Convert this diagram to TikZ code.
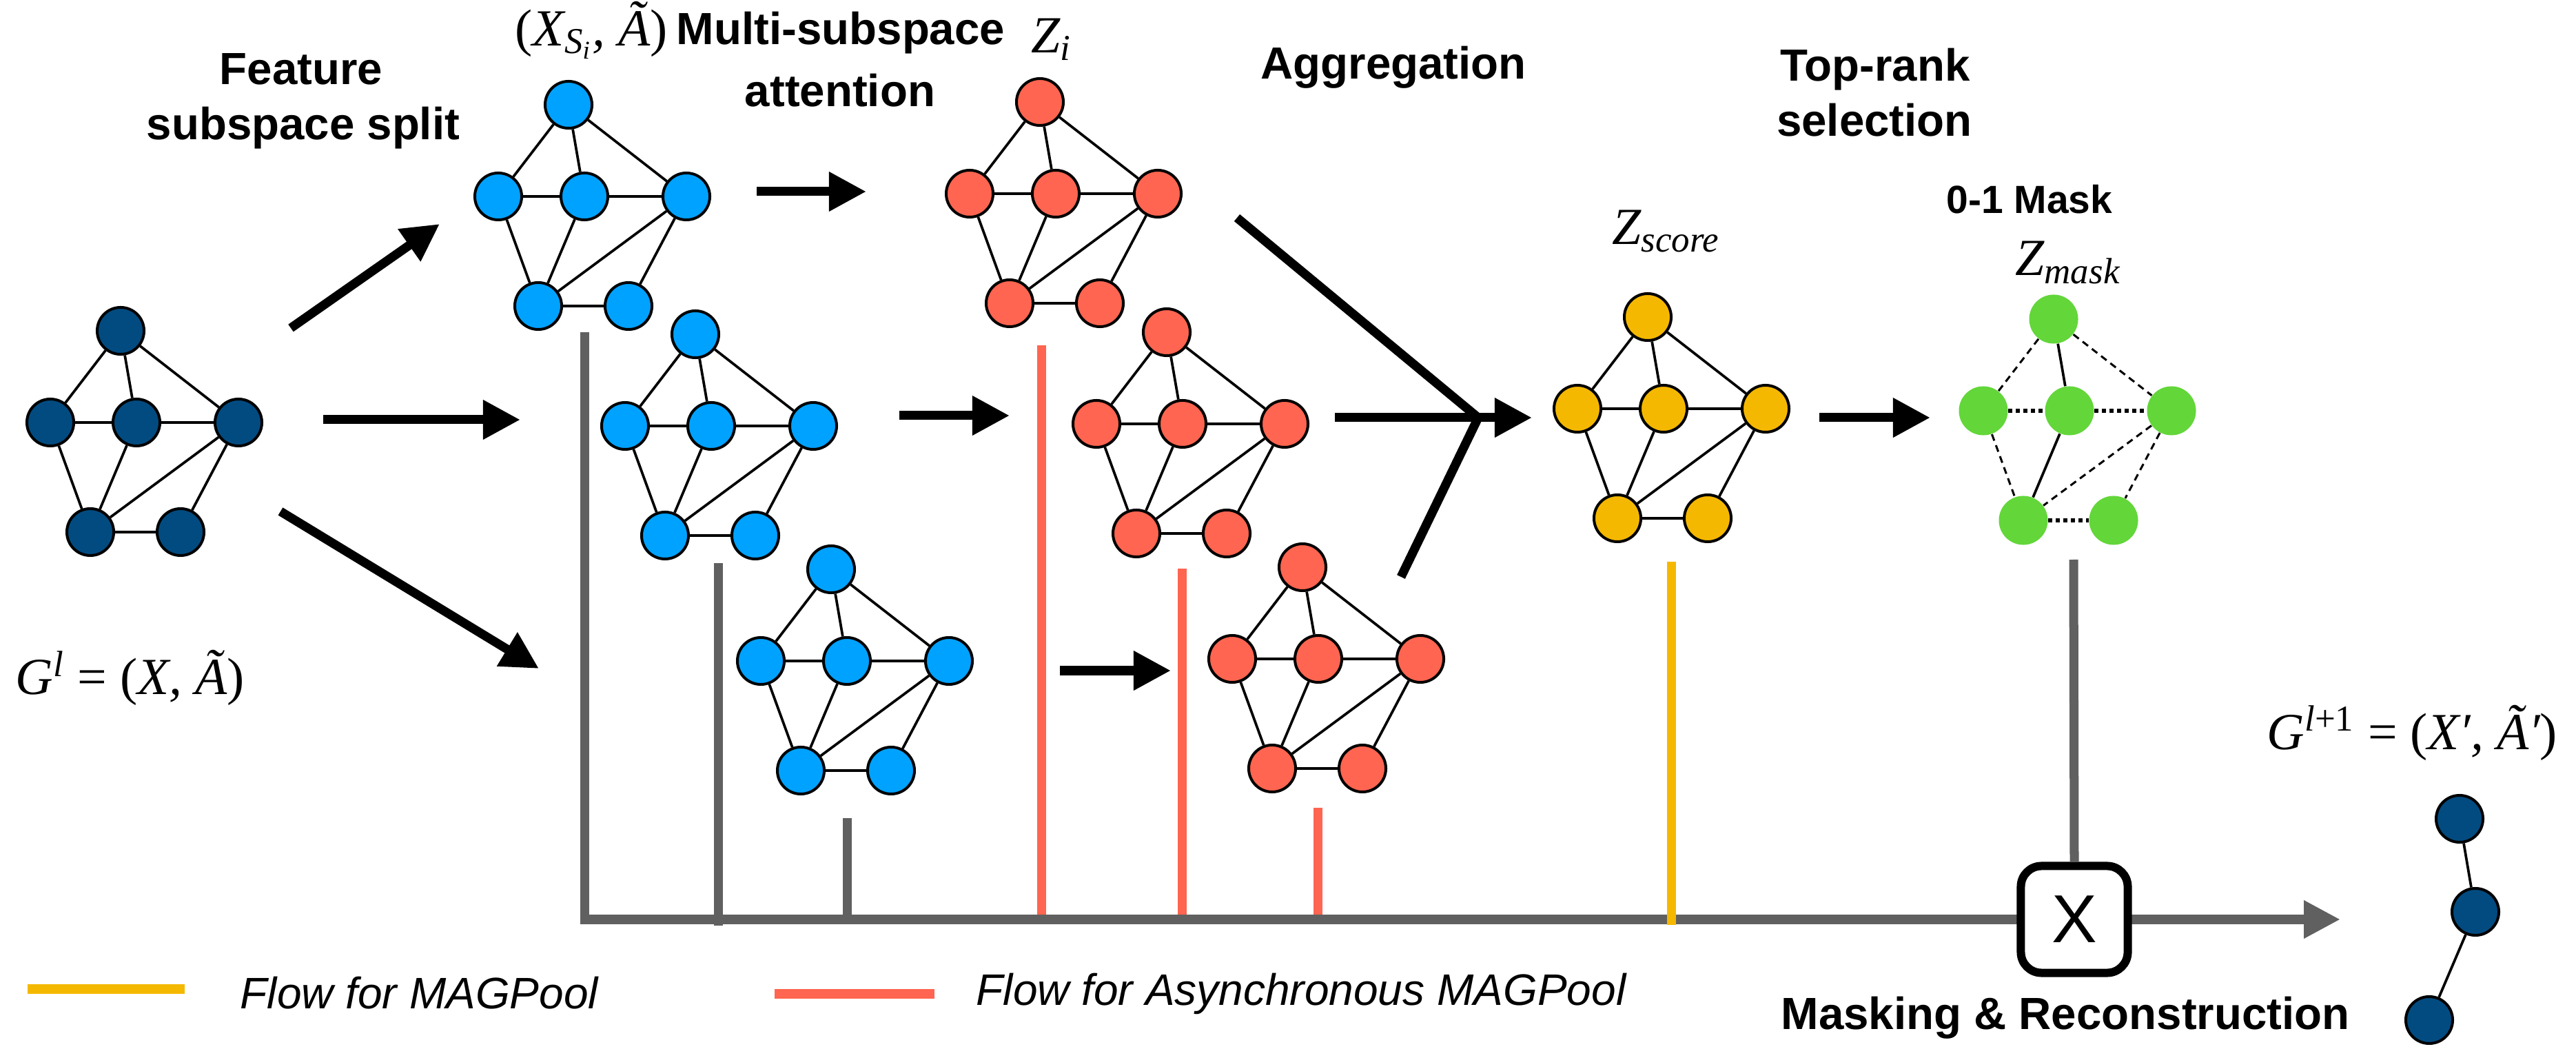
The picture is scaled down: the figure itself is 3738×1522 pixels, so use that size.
\documentclass[tikz,border=0pt]{standalone}
\usepackage{fontspec}
\usetikzlibrary{arrows.meta}
\newfontfamily\hv{Liberation Sans}
\newfontfamily\tms{Liberation Serif}
\definecolor{dblue}{RGB}{2,75,128}
\definecolor{lblue}{RGB}{0,162,255}
\definecolor{coral}{RGB}{255,101,80}
\definecolor{gold}{RGB}{245,184,0}
\definecolor{lgreen}{RGB}{99,214,58}
\definecolor{fgray}{RGB}{96,96,96}
\tikzset{
  gnode/.style={circle,draw=black,line width=0.04cm,minimum size=0.68cm,inner sep=0pt},
  mnode/.style={circle,draw=none,fill=lgreen,minimum size=0.71cm,inner sep=0pt},
  gedge/.style={line width=0.037cm},
  dashedge/.style={line width=0.03cm,dash pattern=on 0.1cm off 0.07cm},
  dotedge/.style={line width=0.055cm,dash pattern=on 0.06cm off 0.05cm},
  lbl/.style={font=\hv\bfseries\fontsize{18.6}{22}\selectfont,inner sep=0pt,anchor=base},
  mth/.style={font=\tms\itshape\fontsize{21.5}{26}\selectfont,inner sep=0pt,anchor=base west},
  leg/.style={font=\hv\itshape\fontsize{18.2}{22}\selectfont,inner sep=0pt,anchor=base west},
  blk/.style={line width=0.13cm,-{Triangle[length=0.54cm,width=0.54cm]}},
  blkline/.style={line width=0.13cm,line join=miter},
  gline/.style={line width=0.13cm,draw=fgray,line cap=butt},
  pics/pentagraph/.style={code={
    \node[gnode,fill=#1] (-t) at (0,0) {};
    \node[gnode,fill=#1] (-l) at (-102,133) {};
    \node[gnode,fill=#1] (-c) at (23,133) {};
    \node[gnode,fill=#1] (-r) at (171,133) {};
    \node[gnode,fill=#1] (-bl) at (-44,292) {};
    \node[gnode,fill=#1] (-br) at (87,292) {};
    \draw[gedge] (-t)--(-l) (-t)--(-c) (-t)--(-r) (-l)--(-c) (-c)--(-r)
      (-l)--(-bl) (-c)--(-bl) (-r)--(-bl) (-r)--(-br) (-bl)--(-br);
  }},
  pics/maskgraph/.style={code={
    \node[mnode] (-t) at (0,0) {};
    \node[mnode] (-l) at (-102,133) {};
    \node[mnode] (-c) at (23,133) {};
    \node[mnode] (-r) at (171,133) {};
    \node[mnode] (-bl) at (-44,292) {};
    \node[mnode] (-br) at (87,292) {};
    \draw[gedge] (-t)--(-c) (-c)--(-bl);
    \draw[dashedge] (-t)--(-l) (-t)--(-r) (-l)--(-bl) (-r)--(-bl) (-r)--(-br);
    \draw[dotedge] (-l)--(-c) (-c)--(-r) (-bl)--(-br);
  }},
}
\begin{document}
\begin{tikzpicture}[x=0.01cm,y=-0.01cm]
\useasboundingbox (0,0) rectangle (3738,1522);

% ---------- flow lines ----------
\coordinate (v0) at (848,482);
\coordinate (mainT) at (3396,1334);
\draw[gline,line join=miter,-{Triangle[length=0.53cm,width=0.52cm]}] (v0) |- (mainT);
\coordinate (v1a) at (1042,817);  \coordinate (v1b) at (1042,1343);
\coordinate (v2a) at (1229,1187); \coordinate (v2b) at (1229,1334);
\draw[gline] (v1a) -- (v1b);
\draw[gline] (v2a) -- (v2b);
\coordinate (r1a) at (1511,501);  \coordinate (r1b) at (1511,1327);
\coordinate (r2a) at (1715,825);  \coordinate (r2b) at (1715,1327);
\coordinate (r3a) at (1912,1172); \coordinate (r3b) at (1912,1327);
\draw[line width=0.13cm,draw=coral] (r1a) -- (r1b);
\draw[line width=0.13cm,draw=coral] (r2a) -- (r2b);
\draw[line width=0.13cm,draw=coral] (r3a) -- (r3b);
\coordinate (ya) at (2425,815); \coordinate (yb) at (2425,1342);
\draw[line width=0.13cm,draw=gold] (ya) -- (yb);
\coordinate (ma) at (3009,812);

% ---------- graphs ----------
\pic (G0) at (175,480) {pentagraph=dblue};
\pic (B1) at (825,152) {pentagraph=lblue};
\pic (B2) at (1009,485) {pentagraph=lblue};
\pic (B3) at (1206,826) {pentagraph=lblue};
\pic (R1) at (1509,148) {pentagraph=coral};
\pic (R2) at (1693,482) {pentagraph=coral};
\pic (R3) at (1890,823) {pentagraph=coral};
\pic (Y) at (2391,460) {pentagraph=gold};
\pic (M) at (2980,463) {maskgraph};

% output graph
\node[gnode,fill=dblue] (o1) at (3569,1188) {};
\node[gnode,fill=dblue] (o2) at (3592,1323) {};
\node[gnode,fill=dblue] (o3) at (3525,1480) {};
\draw[gedge] (o1) -- (o2) -- (o3);

% ---------- multiply box ----------
\node[draw=black,line width=0.12cm,fill=white,rounded corners=0.3cm,minimum size=1.55cm,inner sep=0pt,
      font=\hv\fontsize{28}{30}\selectfont] (xbox) at (3010,1334) {X};
\draw[gline] (ma) -- (xbox.north);

% ---------- black arrows ----------
\coordinate (a1s) at (422,476);  \coordinate (a1t) at (638,325);
\coordinate (a2s) at (469,609);  \coordinate (a2t) at (755,609);
\coordinate (a3s) at (407,742);  \coordinate (a3t) at (782,970);
\draw[blk] (a1s) -- (a1t);
\draw[blk] (a2s) -- (a2t);
\draw[blk] (a3s) -- (a3t);
\coordinate (a4s) at (1098,278); \coordinate (a4t) at (1257,278);
\coordinate (a5s) at (1305,603); \coordinate (a5t) at (1465,603);
\coordinate (a6s) at (1538,973); \coordinate (a6t) at (1699,973);
\draw[blk] (a4s) -- (a4t);
\draw[blk] (a5s) -- (a5t);
\draw[blk] (a6s) -- (a6t);
\coordinate (aggU) at (1795,316);
\coordinate (aggJ) at (2145,606);
\coordinate (aggL) at (2033,837);
\coordinate (aggS) at (1937,606);
\coordinate (aggT) at (2223,606);
\draw[blkline] (aggU) -- (aggJ) -- (aggL);
\draw[blk] (aggS) -- (aggT);
\coordinate (a7s) at (2640,606); \coordinate (a7t) at (2801,606);
\draw[blk] (a7s) -- (a7t);

% ---------- labels ----------
\node[lbl] (t1a) at (437,123) {Feature};
\node[lbl] (t1b) at (440,203) {subspace split};
\node[lbl] (t2a) at (1220,65) {Multi-subspace};
\node[lbl] (t2b) at (1219,155) {attention};
\node[lbl] (t3) at (2022,115) {Aggregation};
\node[lbl] (t4a) at (2721,118) {Top-rank};
\node[lbl] (t4b) at (2720,198) {selection};
\node[lbl,font=\hv\bfseries\fontsize{16.2}{20}\selectfont] (t5) at (2945,310) {0-1 Mask};
\node[lbl] (t6) at (2997,1493) {Masking \& Reconstruction};

\node[mth] (m1) at (747,67) {{\upshape(}X\textsubscript{S\textsubscript{i}}, Ã{\upshape)}};
\node[mth] (m2) at (1496,77) {Z\textsubscript{i}};
\node[mth] (m3) at (2339,355) {Z\textsubscript{score}};
\node[mth] (m4) at (2924,400) {Z\textsubscript{mask}};
\node[mth] (m5) at (22,1008) {G\textsuperscript{l} {\upshape = (}X, Ã{\upshape)}};
\node[mth] (m6) at (3289,1087) {G\textsuperscript{l{\upshape +1}} {\upshape = (}X′, Ã′{\upshape)}};

% ---------- legend ----------
\coordinate (ly1) at (40,1435);   \coordinate (ly2) at (268,1435);
\coordinate (lr1) at (1124,1442); \coordinate (lr2) at (1356,1442);
\draw[line width=0.14cm,draw=gold] (ly1) -- (ly2);
\draw[line width=0.14cm,draw=coral] (lr1) -- (lr2);
\node[leg] (l1) at (348,1463) {Flow for MAGPool};
\node[leg] (l2) at (1416,1458) {Flow for Asynchronous MAGPool};
\end{tikzpicture}
\end{document}
